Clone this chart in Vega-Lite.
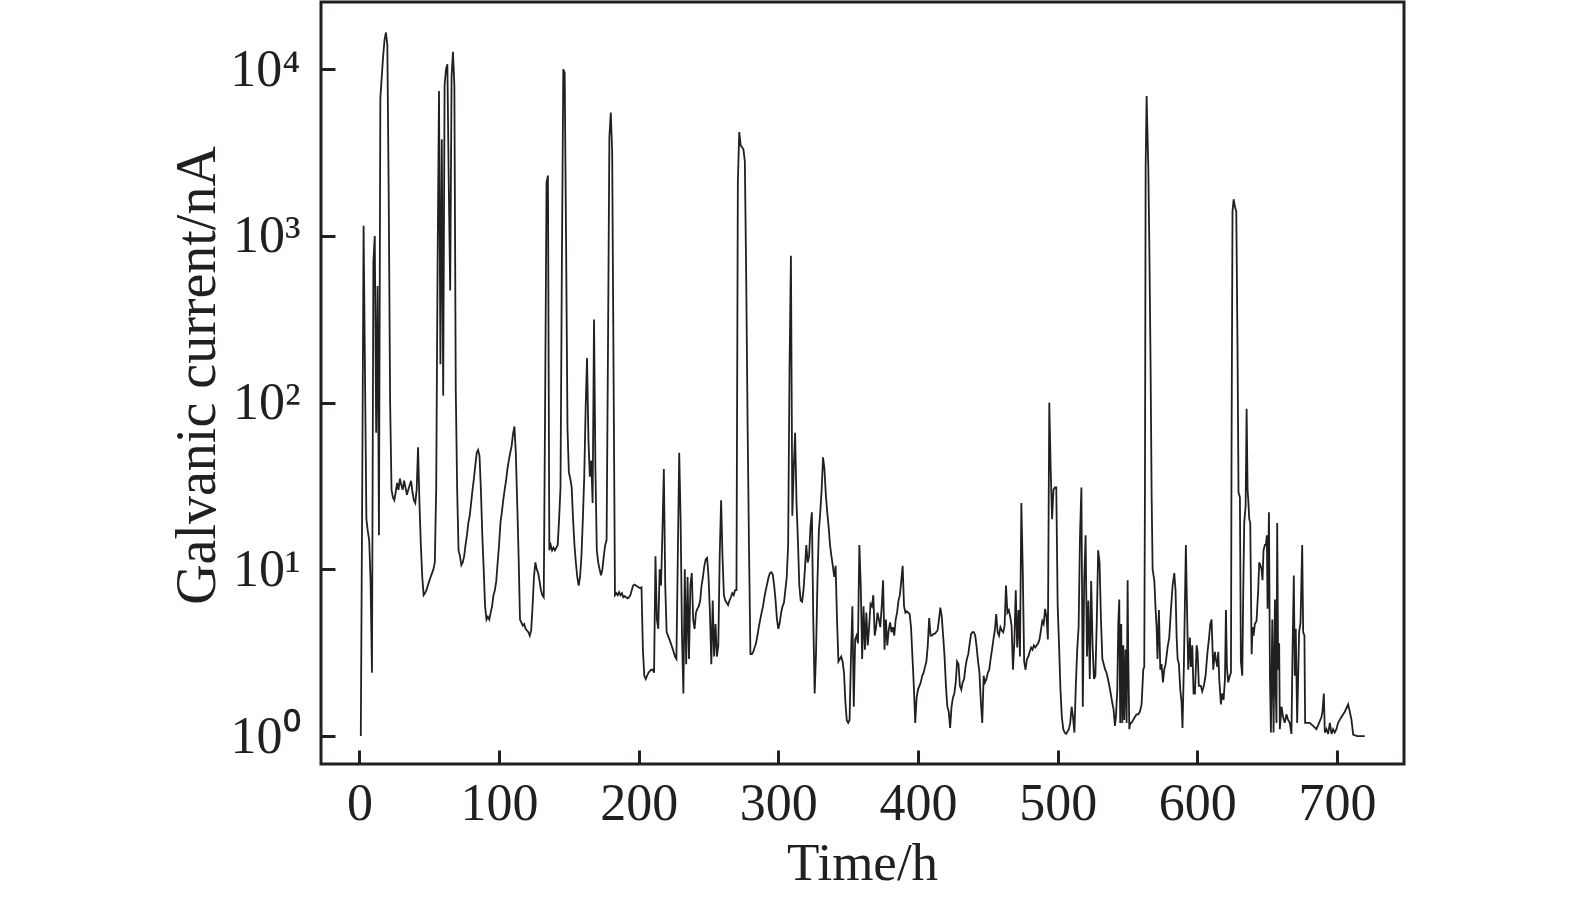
{
"$schema": "https://vega.github.io/schema/vega-lite/v6.json",
"width": 1083, "height": 762,
"autosize": {"type": "none"},
"padding": {"left": 321, "top": 2, "right": 171, "bottom": 134},
"background": "white",
"config": {"view": {"stroke": "#231f20", "strokeWidth": 3}, "font": "Liberation Serif"},
"data": {"values": [
{"t":1,"v":1.0},{"t":2,"v":28},{"t":3,"v":1150},{"t":4,"v":150},{"t":5,"v":20},{"t":6,"v":17},{"t":7,"v":15},{"t":8,"v":8.5},{"t":9,"v":2.4},{"t":10,"v":700},
{"t":11,"v":1000},{"t":12,"v":66},{"t":13,"v":500},{"t":14,"v":16},{"t":15,"v":6700},{"t":16,"v":9000},{"t":17,"v":12000},{"t":18,"v":15000},{"t":19,"v":16600},{"t":20,"v":14000},
{"t":21,"v":1700},{"t":22,"v":100},{"t":23,"v":30},{"t":24,"v":27},{"t":25,"v":26},{"t":26,"v":29},{"t":27,"v":33},{"t":28,"v":30},{"t":29,"v":35},{"t":30,"v":32},
{"t":31,"v":30},{"t":32,"v":34},{"t":33,"v":31},{"t":34,"v":28},{"t":35,"v":30},{"t":36,"v":32},{"t":37,"v":34},{"t":38,"v":29},{"t":39,"v":26},{"t":40,"v":25},
{"t":41,"v":30},{"t":42,"v":54},{"t":43,"v":25},{"t":44,"v":14},{"t":45,"v":9},{"t":46,"v":7},{"t":47,"v":7.2},{"t":48,"v":7.5},{"t":49,"v":8},{"t":50,"v":8.5},
{"t":51,"v":9},{"t":52,"v":9.5},{"t":53,"v":10},{"t":54,"v":11},{"t":55,"v":31},{"t":56,"v":700},{"t":57,"v":7400},{"t":58,"v":170},{"t":59,"v":3800},{"t":60,"v":110},
{"t":61,"v":8000},{"t":62,"v":10000},{"t":63,"v":10700},{"t":64,"v":2000},{"t":65,"v":470},{"t":66,"v":9000},{"t":67,"v":12700},{"t":68,"v":8000},{"t":69,"v":120},{"t":70,"v":30},
{"t":71,"v":13},{"t":72,"v":12},{"t":73,"v":10.6},{"t":74,"v":11},{"t":75,"v":12},{"t":76,"v":14},{"t":77,"v":16},{"t":78,"v":19},{"t":79,"v":21},{"t":80,"v":25},
{"t":81,"v":30},{"t":82,"v":35},{"t":83,"v":42},{"t":84,"v":50},{"t":85,"v":52},{"t":86,"v":48},{"t":87,"v":30},{"t":88,"v":16},{"t":89,"v":10},{"t":90,"v":6},
{"t":91,"v":5},{"t":92,"v":5.2},{"t":93,"v":5},{"t":94,"v":5.5},{"t":95,"v":6},{"t":96,"v":7},{"t":97,"v":7.5},{"t":98,"v":8.5},{"t":99,"v":11},{"t":100,"v":14},
{"t":101,"v":19},{"t":102,"v":22},{"t":103,"v":26},{"t":104,"v":30},{"t":105,"v":34},{"t":106,"v":40},{"t":107,"v":45},{"t":108,"v":50},{"t":109,"v":55},{"t":110,"v":65},
{"t":111,"v":72},{"t":112,"v":50},{"t":113,"v":25},{"t":114,"v":12},{"t":115,"v":5},{"t":116,"v":4.8},{"t":117,"v":4.6},{"t":118,"v":4.7},{"t":119,"v":4.4},{"t":120,"v":4.3},
{"t":121,"v":4.2},{"t":122,"v":4.0},{"t":123,"v":4.3},{"t":124,"v":6},{"t":125,"v":9},{"t":126,"v":11},{"t":127,"v":10},{"t":128,"v":9.5},{"t":129,"v":8.5},{"t":130,"v":7.5},
{"t":131,"v":7},{"t":132,"v":6.8},{"t":133,"v":100},{"t":134,"v":2100},{"t":135,"v":2300},{"t":136,"v":13},{"t":137,"v":14},{"t":138,"v":13},{"t":139,"v":13.5},{"t":140,"v":13},
{"t":141,"v":13.5},{"t":142,"v":14},{"t":143,"v":20},{"t":144,"v":31},{"t":145,"v":700},{"t":146,"v":10000},{"t":147,"v":9500},{"t":148,"v":900},{"t":149,"v":70},{"t":150,"v":38},
{"t":151,"v":35},{"t":152,"v":31},{"t":153,"v":20},{"t":154,"v":14},{"t":155,"v":11},{"t":156,"v":9},{"t":157,"v":8},{"t":158,"v":9},{"t":159,"v":12},{"t":160,"v":20},
{"t":161,"v":36},{"t":162,"v":93},{"t":163,"v":185},{"t":164,"v":60},{"t":165,"v":36},{"t":166,"v":45},{"t":167,"v":25},{"t":168,"v":315},{"t":169,"v":40},{"t":170,"v":13},
{"t":171,"v":11},{"t":172,"v":10},{"t":173,"v":9.2},{"t":174,"v":10},{"t":175,"v":12},{"t":176,"v":14},{"t":177,"v":15},{"t":178,"v":210},{"t":179,"v":3900},{"t":180,"v":5500},
{"t":181,"v":3200},{"t":182,"v":150},{"t":183,"v":7},{"t":184,"v":7.2},{"t":185,"v":7},{"t":186,"v":7.3},{"t":187,"v":7},{"t":188,"v":7.2},{"t":189,"v":6.8},{"t":190,"v":6.9},
{"t":191,"v":6.8},{"t":192,"v":6.7},{"t":193,"v":6.8},{"t":194,"v":7},{"t":195,"v":7.5},{"t":196,"v":8},{"t":197,"v":8.1},{"t":198,"v":8},{"t":199,"v":7.9},{"t":200,"v":7.8},
{"t":201,"v":7.7},{"t":202,"v":7.8},{"t":203,"v":3.3},{"t":204,"v":2.3},{"t":205,"v":2.2},{"t":206,"v":2.3},{"t":207,"v":2.4},{"t":208,"v":2.45},{"t":209,"v":2.5},{"t":210,"v":2.5},
{"t":211,"v":2.4},{"t":212,"v":12},{"t":213,"v":5},{"t":214,"v":4.4},{"t":215,"v":10},{"t":216,"v":8},{"t":217,"v":17},{"t":218,"v":40},{"t":219,"v":8},{"t":220,"v":4.2},
{"t":221,"v":4},{"t":222,"v":3.8},{"t":223,"v":3.6},{"t":224,"v":3.4},{"t":225,"v":3.2},{"t":226,"v":3.0},{"t":227,"v":2.9},{"t":228,"v":12},{"t":229,"v":50},{"t":230,"v":20},
{"t":231,"v":4},{"t":232,"v":1.8},{"t":233,"v":10},{"t":234,"v":2.7},{"t":235,"v":9},{"t":236,"v":2.9},{"t":237,"v":8},{"t":238,"v":9.5},{"t":239,"v":5},{"t":240,"v":4.4},
{"t":241,"v":5.5},{"t":242,"v":5.8},{"t":243,"v":6},{"t":244,"v":6.5},{"t":245,"v":8},{"t":246,"v":9},{"t":247,"v":10.5},{"t":248,"v":11.5},{"t":249,"v":11.7},{"t":250,"v":9},
{"t":251,"v":5.5},{"t":252,"v":2.7},{"t":253,"v":6.5},{"t":254,"v":3},{"t":255,"v":4.7},{"t":256,"v":3},{"t":257,"v":3.5},{"t":258,"v":12},{"t":259,"v":26},{"t":260,"v":12},
{"t":261,"v":7},{"t":262,"v":6.5},{"t":263,"v":6.3},{"t":264,"v":6.1},{"t":265,"v":6.5},{"t":266,"v":6.8},{"t":267,"v":7.2},{"t":268,"v":7},{"t":269,"v":7.5},{"t":270,"v":7.5},
{"t":271,"v":2100},{"t":272,"v":4200},{"t":273,"v":3500},{"t":274,"v":3400},{"t":275,"v":3300},{"t":276,"v":2800},{"t":277,"v":540},{"t":278,"v":71},{"t":279,"v":13},{"t":280,"v":3.1},
{"t":281,"v":3.1},{"t":282,"v":3.2},{"t":283,"v":3.4},{"t":284,"v":3.6},{"t":285,"v":4.0},{"t":286,"v":4.5},{"t":287,"v":5},{"t":288,"v":5.5},{"t":289,"v":6},{"t":290,"v":6.8},
{"t":291,"v":7.5},{"t":292,"v":8.2},{"t":293,"v":9},{"t":294,"v":9.5},{"t":295,"v":9.6},{"t":296,"v":9.3},{"t":297,"v":8},{"t":298,"v":6.5},{"t":299,"v":5},{"t":300,"v":4.4},
{"t":301,"v":4.8},{"t":302,"v":5.5},{"t":303,"v":6},{"t":304,"v":6.3},{"t":305,"v":7.5},{"t":306,"v":9},{"t":307,"v":14},{"t":308,"v":160},{"t":309,"v":760},{"t":310,"v":21},
{"t":311,"v":40},{"t":312,"v":66},{"t":313,"v":25},{"t":314,"v":15},{"t":315,"v":8},{"t":316,"v":6.5},{"t":317,"v":6.4},{"t":318,"v":7.5},{"t":319,"v":10},{"t":320,"v":14},
{"t":321,"v":11},{"t":322,"v":12},{"t":323,"v":18},{"t":324,"v":22},{"t":325,"v":5},{"t":326,"v":1.8},{"t":327,"v":3.2},{"t":328,"v":8.5},{"t":329,"v":17},{"t":330,"v":22},
{"t":331,"v":30},{"t":332,"v":47},{"t":333,"v":40},{"t":334,"v":28},{"t":335,"v":22},{"t":336,"v":18},{"t":337,"v":14},{"t":338,"v":12},{"t":339,"v":10.5},{"t":340,"v":9},
{"t":341,"v":10.5},{"t":342,"v":5},{"t":343,"v":2.8},{"t":344,"v":2.9},{"t":345,"v":3.0},{"t":346,"v":2.8},{"t":347,"v":2.4},{"t":348,"v":1.6},{"t":349,"v":1.24},{"t":350,"v":1.2},
{"t":351,"v":1.25},{"t":352,"v":3},{"t":353,"v":6},{"t":354,"v":1.5},{"t":355,"v":3.8},{"t":356,"v":4},{"t":357,"v":3.6},{"t":358,"v":14},{"t":359,"v":8},{"t":360,"v":2.9},
{"t":361,"v":6},{"t":362,"v":3.3},{"t":363,"v":5.5},{"t":364,"v":3.5},{"t":365,"v":4.5},{"t":366,"v":6.2},{"t":367,"v":6},{"t":368,"v":7},{"t":369,"v":4},{"t":370,"v":4.5},
{"t":371,"v":5.5},{"t":372,"v":5},{"t":373,"v":4.5},{"t":374,"v":6},{"t":375,"v":8.6},{"t":376,"v":3.3},{"t":377,"v":5},{"t":378,"v":3.5},{"t":379,"v":4.3},{"t":380,"v":4.8},
{"t":381,"v":4.2},{"t":382,"v":4.5},{"t":383,"v":4},{"t":384,"v":5},{"t":385,"v":5.5},{"t":386,"v":6.5},{"t":387,"v":7},{"t":388,"v":8.5},{"t":389,"v":10.5},{"t":390,"v":6},
{"t":391,"v":5.5},{"t":392,"v":5.6},{"t":393,"v":5.5},{"t":394,"v":5.4},{"t":395,"v":4.5},{"t":396,"v":3},{"t":397,"v":2},{"t":398,"v":1.2},{"t":399,"v":1.7},{"t":400,"v":1.9},
{"t":401,"v":2.0},{"t":402,"v":2.1},{"t":403,"v":2.3},{"t":404,"v":2.4},{"t":405,"v":2.6},{"t":406,"v":2.8},{"t":407,"v":3.5},{"t":408,"v":5.1},{"t":409,"v":4},{"t":410,"v":4},
{"t":411,"v":4.1},{"t":412,"v":4.1},{"t":413,"v":4.2},{"t":414,"v":4.3},{"t":415,"v":5},{"t":416,"v":5.9},{"t":417,"v":5.2},{"t":418,"v":4},{"t":419,"v":3},{"t":420,"v":2},
{"t":421,"v":1.5},{"t":422,"v":1.4},{"t":423,"v":1.12},{"t":424,"v":1.5},{"t":425,"v":1.7},{"t":426,"v":1.8},{"t":427,"v":2.1},{"t":428,"v":2.8},{"t":429,"v":2.7},{"t":430,"v":2.0},
{"t":431,"v":1.9},{"t":432,"v":2.1},{"t":433,"v":2.2},{"t":434,"v":2.6},{"t":435,"v":2.9},{"t":436,"v":3.1},{"t":437,"v":3.6},{"t":438,"v":4.1},{"t":439,"v":4.2},{"t":440,"v":4.2},
{"t":441,"v":4},{"t":442,"v":3.4},{"t":443,"v":2.8},{"t":444,"v":2.4},{"t":445,"v":1.6},{"t":446,"v":1.2},{"t":447,"v":2.3},{"t":448,"v":2.1},{"t":449,"v":2.2},{"t":450,"v":2.4},
{"t":451,"v":2.5},{"t":452,"v":2.9},{"t":453,"v":3.3},{"t":454,"v":3.8},{"t":455,"v":4.3},{"t":456,"v":5.4},{"t":457,"v":4.2},{"t":458,"v":4},{"t":459,"v":4.5},{"t":460,"v":4.3},
{"t":461,"v":4.2},{"t":462,"v":4.6},{"t":463,"v":8},{"t":464,"v":5.5},{"t":465,"v":5.7},{"t":466,"v":5.2},{"t":467,"v":4.6},{"t":468,"v":2.5},{"t":469,"v":3.7},{"t":470,"v":7.5},
{"t":471,"v":3.4},{"t":472,"v":5.7},{"t":473,"v":3},{"t":474,"v":25},{"t":475,"v":10},{"t":476,"v":2.8},{"t":477,"v":2.5},{"t":478,"v":2.9},{"t":479,"v":3},{"t":480,"v":3.2},
{"t":481,"v":3.4},{"t":482,"v":3.3},{"t":483,"v":3.5},{"t":484,"v":3.4},{"t":485,"v":3.5},{"t":486,"v":3.6},{"t":487,"v":3.8},{"t":488,"v":4.3},{"t":489,"v":4.9},{"t":490,"v":4.7},
{"t":491,"v":5.8},{"t":492,"v":5.2},{"t":493,"v":3.8},{"t":494,"v":100},{"t":495,"v":40},{"t":496,"v":20},{"t":497,"v":30},{"t":498,"v":31},{"t":499,"v":31},{"t":500,"v":6.1},
{"t":501,"v":3.5},{"t":502,"v":1.9},{"t":503,"v":1.3},{"t":504,"v":1.1},{"t":505,"v":1.05},{"t":506,"v":1.03},{"t":507,"v":1.06},{"t":508,"v":1.1},{"t":509,"v":1.2},{"t":510,"v":1.5},
{"t":511,"v":1.3},{"t":512,"v":1.05},{"t":513,"v":2},{"t":514,"v":3.3},{"t":515,"v":4.5},{"t":516,"v":16},{"t":517,"v":31},{"t":518,"v":1.5},{"t":519,"v":8.5},{"t":520,"v":16},
{"t":521,"v":3},{"t":522,"v":6.5},{"t":523,"v":2.2},{"t":524,"v":8.5},{"t":525,"v":3.5},{"t":526,"v":2.2},{"t":527,"v":2.3},{"t":528,"v":4.8},{"t":529,"v":13},{"t":530,"v":11},
{"t":531,"v":5},{"t":532,"v":2.9},{"t":533,"v":2.7},{"t":534,"v":2.5},{"t":535,"v":2.4},{"t":536,"v":2.2},{"t":537,"v":2.0},{"t":538,"v":1.8},{"t":539,"v":1.6},{"t":540,"v":1.45},
{"t":541,"v":1.15},{"t":541.7,"v":1.3},{"t":542.7,"v":1.9},{"t":543.4,"v":4.7},{"t":544.1,"v":6.6},{"t":544.8,"v":1.2},{"t":545.5,"v":4.7},{"t":546.3,"v":1.2},{"t":547,"v":3.5},{"t":547.7,"v":1.25},
{"t":548.6,"v":3.3},{"t":549.4,"v":1.2},{"t":550.1,"v":8.6},{"t":550.5,"v":3.3},{"t":551.3,"v":1.1},{"t":552,"v":1.2},{"t":552.9,"v":1.2},{"t":554.1,"v":1.25},{"t":555.3,"v":1.3},{"t":556.5,"v":1.35},
{"t":557.7,"v":1.35},{"t":558.9,"v":1.4},{"t":560.1,"v":1.55},{"t":561.3,"v":2.5},{"t":562,"v":2.6},{"t":562.5,"v":30},{"t":563,"v":2600},{"t":563.7,"v":6900},{"t":564.2,"v":4500},{"t":564.9,"v":2600},
{"t":565.6,"v":930},{"t":566.5,"v":180},{"t":567.3,"v":27},{"t":568,"v":10},{"t":569.2,"v":8.6},{"t":570.1,"v":5.8},{"t":570.8,"v":4.6},{"t":571.5,"v":2.9},{"t":572.5,"v":5.7},{"t":573.5,"v":2.5},
{"t":574.4,"v":2.7},{"t":575.4,"v":2.1},{"t":576.3,"v":2.5},{"t":577.3,"v":2.7},{"t":578.7,"v":3.4},{"t":579.9,"v":3.9},{"t":581.1,"v":5.7},{"t":582.3,"v":8},{"t":583.5,"v":9.5},{"t":584.4,"v":7.5},
{"t":585.2,"v":3.9},{"t":585.9,"v":2.9},{"t":586.8,"v":2.7},{"t":587.8,"v":1.9},{"t":588.7,"v":1.6},{"t":589.4,"v":1.12},{"t":590.4,"v":2.7},{"t":591.1,"v":6.1},{"t":591.8,"v":14},{"t":592.6,"v":6},
{"t":593.5,"v":2.5},{"t":594.7,"v":3.9},{"t":595.4,"v":2.6},{"t":596.4,"v":3.5},{"t":597.3,"v":1.8},{"t":598.3,"v":1.8},{"t":599.5,"v":3.5},{"t":600.2,"v":3.2},{"t":601.1,"v":2.0},{"t":602.6,"v":2.0},
{"t":603.5,"v":1.85},{"t":604.7,"v":2.0},{"t":605.9,"v":2.3},{"t":607.3,"v":3.2},{"t":608.3,"v":3.8},{"t":609.3,"v":4.7},{"t":610.2,"v":5},{"t":611.4,"v":2.5},{"t":612.6,"v":3.2},{"t":613.3,"v":2.9},
{"t":614.3,"v":2.6},{"t":615,"v":3.2},{"t":615.7,"v":2.2},{"t":616.9,"v":1.55},{"t":617.8,"v":1.8},{"t":618.8,"v":1.65},{"t":619.8,"v":2.2},{"t":620.5,"v":5.7},{"t":621.2,"v":2.6},{"t":622.1,"v":2.1},
{"t":623.3,"v":2.3},{"t":624.1,"v":2.4},{"t":624.5,"v":50},{"t":625.2,"v":1400},{"t":626,"v":1660},{"t":626.9,"v":1500},{"t":627.9,"v":1400},{"t":628.8,"v":210},{"t":629.5,"v":29},{"t":630.5,"v":27},
{"t":631.2,"v":2.8},{"t":632.2,"v":2.3},{"t":632.9,"v":7.5},{"t":633.6,"v":19},{"t":634.6,"v":24},{"t":635.3,"v":92},{"t":636,"v":30},{"t":636.5,"v":26},{"t":637.2,"v":20},{"t":637.9,"v":19},
{"t":638.9,"v":3.1},{"t":639.6,"v":4.5},{"t":640.3,"v":4.0},{"t":641.2,"v":4.7},{"t":642.4,"v":4.9},{"t":643.6,"v":7.5},{"t":644.3,"v":11},{"t":645.3,"v":10.5},{"t":646,"v":10},{"t":646.7,"v":8.6},
{"t":647.4,"v":13},{"t":648.4,"v":14},{"t":649.1,"v":14},{"t":649.8,"v":16},{"t":650.3,"v":5.8},{"t":651.3,"v":22},{"t":652,"v":2.3},{"t":652.7,"v":1.05},{"t":653.7,"v":5},{"t":654.6,"v":1.05},
{"t":655.6,"v":6.6},{"t":656.2,"v":1.8},{"t":656.7,"v":1.2},{"t":657.2,"v":19},{"t":657.9,"v":2.5},{"t":658.6,"v":3.6},{"t":659.1,"v":1.1},{"t":660.3,"v":1.5},{"t":661.4,"v":1.3},{"t":662.6,"v":1.2},
{"t":663.8,"v":1.35},{"t":665,"v":1.25},{"t":666.2,"v":1.2},{"t":667.4,"v":1.03},{"t":668.1,"v":2.9},{"t":669.1,"v":9.2},{"t":669.8,"v":2.3},{"t":670.5,"v":4.4},{"t":671.5,"v":1.2},{"t":672.9,"v":4.2},
{"t":673.9,"v":4.8},{"t":675.1,"v":14},{"t":675.8,"v":4.2},{"t":676.7,"v":4},{"t":677.2,"v":1.2},{"t":678.2,"v":1.2},{"t":680.5,"v":1.2},{"t":682.9,"v":1.15},{"t":685.3,"v":1.1},{"t":687.2,"v":1.2},
{"t":688.9,"v":1.3},{"t":689.6,"v":1.4},{"t":690.6,"v":1.8},{"t":691.3,"v":1.05},{"t":692.5,"v":1.1},{"t":693.7,"v":1.03},{"t":694.9,"v":1.2},{"t":696.1,"v":1.03},{"t":697.2,"v":1.1},{"t":698.4,"v":1.05},
{"t":699.6,"v":1.1},{"t":700.8,"v":1.2},{"t":702,"v":1.25},{"t":703.2,"v":1.3},{"t":705.6,"v":1.4},{"t":708,"v":1.55},{"t":709.2,"v":1.4},{"t":710.4,"v":1.25},{"t":711.6,"v":1.02},{"t":714.4,"v":1.0},
{"t":719.9,"v":1.0}
]},
"mark": {"type": "line", "color": "#231f20", "strokeWidth": 1.8, "interpolate": "linear"},
"encoding": {
"x": {"field": "t", "type": "quantitative",
 "scale": {"domain": [-27.5, 748], "nice": false, "zero": false},
 "axis": {"values": [0,100,200,300,400,500,600,700], "title": "Time/h", "domain": false, "grid": false,
  "tickSize": -14, "tickWidth": 3, "tickColor": "#231f20",
  "labelFont": "Liberation Serif", "labelFontSize": 52, "labelColor": "#231f20", "labelPadding": 28, "labelFlush": false, "labelOverlap": false,
  "titleFont": "Liberation Serif", "titleFontSize": 53, "titleFontWeight": "normal", "titleColor": "#231f20",
  "titleX": 541, "titleY": 115, "titleBaseline": "alphabetic", "titleAlign": "center"}},
"y": {"field": "v", "type": "quantitative",
 "scale": {"type": "log", "domain": [0.68, 25300], "nice": false},
 "axis": {"values": [1,10,100,1000,10000], "title": "Galvanic current/nA", "domain": false, "grid": false,
  "labelExpr": "datum.value == 1 ? '10⁰' : datum.value == 10 ? '10¹' : datum.value == 100 ? '10²' : datum.value == 1000 ? '10³' : '10⁴'",
  "tickSize": -14, "tickWidth": 3, "tickColor": "#231f20",
  "labelFont": "Liberation Serif", "labelFontSize": 52, "labelColor": "#231f20", "labelPadding": 35, "labelOverlap": false,
  "titleFont": "Liberation Serif", "titleFontSize": 56, "titleFontWeight": "normal", "titleColor": "#231f20",
  "titleX": -107, "titleY": 373, "titleAngle": -90, "titleBaseline": "alphabetic", "titleAlign": "center"}}
}
}
